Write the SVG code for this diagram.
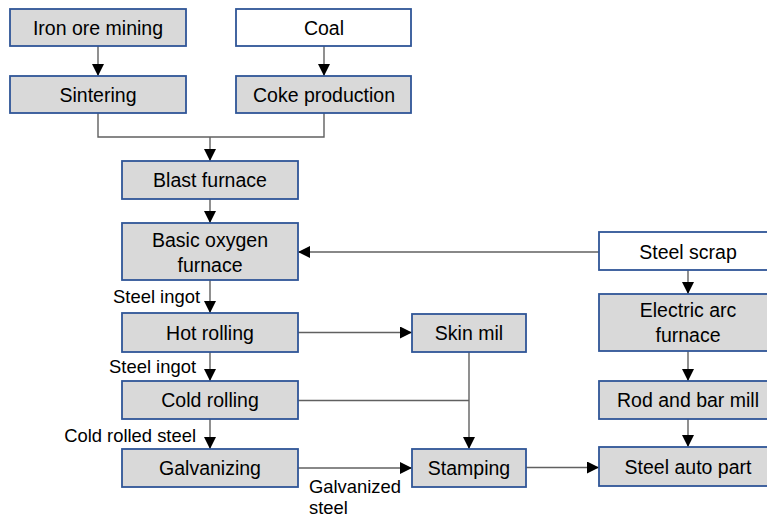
<svg xmlns="http://www.w3.org/2000/svg" width="767" height="518" viewBox="0 0 767 518">
<style>
.box{fill:#d9d9d9;stroke:#2f5597;stroke-width:1.8}
.wbox{fill:#ffffff;stroke:#2f5597;stroke-width:1.8}
.t{font-family:"Liberation Sans",Arial,sans-serif;font-size:19.5px;fill:#000;text-anchor:middle}
.lbl{font-family:"Liberation Sans",Arial,sans-serif;font-size:18.4px;fill:#000}
.c{fill:none;stroke:#606060;stroke-width:1.4}
</style>
<defs>
<marker id="ah" markerUnits="userSpaceOnUse" markerWidth="12" markerHeight="12" viewBox="0 0 12 12" refX="12" refY="6" orient="auto">
<path d="M0,0 L12,6 L0,12 Z" fill="#000"/>
</marker>
</defs>
<rect width="767" height="518" fill="#fff"/>
<g id="connectors">
<path class="c" d="M98,46 V76" marker-end="url(#ah)"/>
<path class="c" d="M324,46 V76" marker-end="url(#ah)"/>
<path class="c" d="M98,113 V137 H324 V113"/>
<path class="c" d="M210,137 V161" marker-end="url(#ah)"/>
<path class="c" d="M210,199 V223" marker-end="url(#ah)"/>
<path class="c" d="M599,252 H298" marker-end="url(#ah)"/>
<path class="c" d="M210,280 V313" marker-end="url(#ah)"/>
<path class="c" d="M210,352 V381" marker-end="url(#ah)"/>
<path class="c" d="M210,419 V449" marker-end="url(#ah)"/>
<path class="c" d="M298,332.5 H412" marker-end="url(#ah)"/>
<path class="c" d="M469,352 V449" marker-end="url(#ah)"/>
<path class="c" d="M298,400.5 H469"/>
<path class="c" d="M298,468 H412" marker-end="url(#ah)"/>
<path class="c" d="M526,467.5 H599" marker-end="url(#ah)"/>
<path class="c" d="M688,270 V294" marker-end="url(#ah)"/>
<path class="c" d="M688,351 V381" marker-end="url(#ah)"/>
<path class="c" d="M688,419 V447" marker-end="url(#ah)"/>
</g>
<g id="iron-ore-mining"><rect class="box" x="10" y="9" width="176" height="37"/><text class="t" x="98" y="34.5">Iron ore mining</text></g>
<g id="coal"><rect class="wbox" x="236" y="9" width="175" height="37"/><text class="t" x="324" y="34.5">Coal</text></g>
<g id="sintering"><rect class="box" x="10" y="76" width="176" height="37"/><text class="t" x="98" y="101.5">Sintering</text></g>
<g id="coke-production"><rect class="box" x="236" y="76" width="175" height="37"/><text class="t" x="324" y="101.5">Coke production</text></g>
<g id="blast-furnace"><rect class="box" x="122" y="161" width="176" height="38"/><text class="t" x="210" y="187">Blast furnace</text></g>
<g id="basic-oxygen-furnace"><rect class="box" x="122" y="223" width="176" height="57"/><text class="t" x="210" y="247">Basic oxygen</text><text class="t" x="210" y="272">furnace</text></g>
<g id="steel-scrap"><rect class="wbox" x="599" y="232" width="178" height="38"/><text class="t" x="688" y="258.5">Steel scrap</text></g>
<g id="electric-arc-furnace"><rect class="box" x="599" y="294" width="178" height="57"/><text class="t" x="688" y="317">Electric arc</text><text class="t" x="688" y="342">furnace</text></g>
<g id="hot-rolling"><rect class="box" x="122" y="313" width="176" height="39"/><text class="t" x="210" y="339.5">Hot rolling</text></g>
<g id="skin-mil"><rect class="box" x="412" y="314" width="114" height="38"/><text class="t" x="469" y="340">Skin mil</text></g>
<g id="cold-rolling"><rect class="box" x="122" y="381" width="176" height="38"/><text class="t" x="210" y="407">Cold rolling</text></g>
<g id="rod-and-bar-mill"><rect class="box" x="599" y="381" width="178" height="38"/><text class="t" x="688" y="407">Rod and bar mill</text></g>
<g id="galvanizing"><rect class="box" x="122" y="449" width="176" height="38"/><text class="t" x="210" y="475">Galvanizing</text></g>
<g id="stamping"><rect class="box" x="412" y="449" width="114" height="38"/><text class="t" x="469" y="475">Stamping</text></g>
<g id="steel-auto-part"><rect class="box" x="599" y="447" width="178" height="39"/><text class="t" x="688" y="473.5">Steel auto part</text></g>
<g id="labels">
<text class="lbl" x="200" y="303" text-anchor="end">Steel ingot</text>
<text class="lbl" x="196" y="373" text-anchor="end">Steel ingot</text>
<text class="lbl" x="196" y="442" text-anchor="end">Cold rolled steel</text>
<text class="lbl" x="309" y="493">Galvanized</text>
<text class="lbl" x="309" y="513.5">steel</text>
</g>
</svg>
